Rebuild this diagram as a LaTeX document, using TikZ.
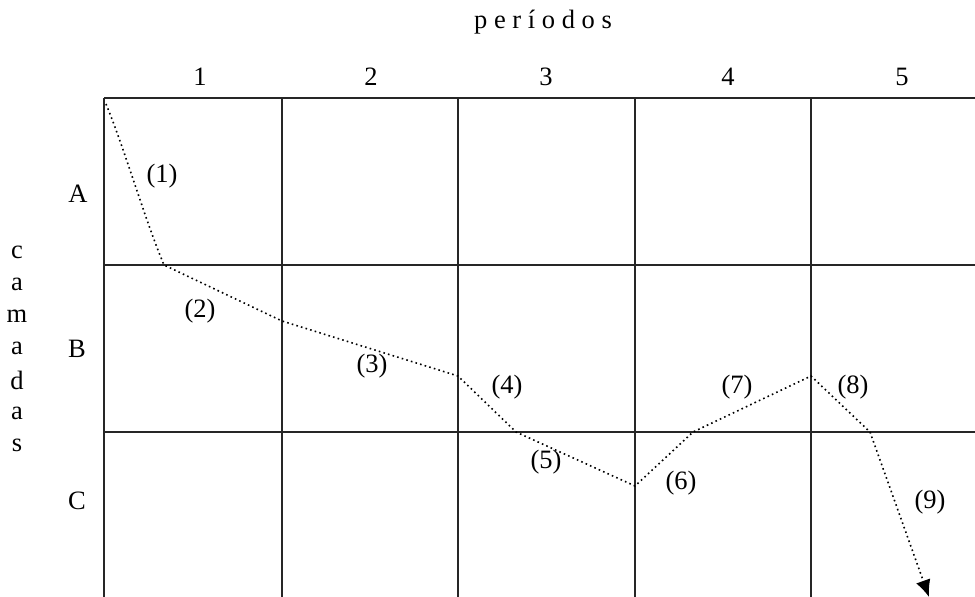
\documentclass[tikz,border=0pt]{standalone}
\usepackage{fontspec}
\setmainfont{Liberation Serif}
\usetikzlibrary{arrows.meta}
\begin{document}
\begin{tikzpicture}[x=1pt,y=-1pt,
  gridline/.style={line width=1.3pt, black!85},
  lbl/.style={inner sep=0pt, font=\fontsize{26.5}{31}\selectfont},
  route/.style={line width=1.6pt, dash pattern=on 1.6pt off 3.2pt, black}]
\useasboundingbox (0,0) rectangle (975,597);
% grid
\draw[gridline] (104,98) -- (975,98);
\draw[gridline] (104,265) -- (975,265);
\draw[gridline] (104,432) -- (975,432);
\foreach \x in {104,282,458,635,811} \draw[gridline] (\x,98) -- (\x,597);
% headers
\node[lbl] (per) at (543,22) {p e r í o d o s};
\node[lbl] (c1) at (200,77) {1};
\node[lbl] (c2) at (371,77) {2};
\node[lbl] (c3) at (546,77) {3};
\node[lbl] (c4) at (728,77) {4};
\node[lbl] (c5) at (902,77) {5};
\node[lbl] (rA) at (78,194) {A};
\node[lbl] (rB) at (77,349) {B};
\node[lbl] (rC) at (77,501) {C};
\foreach \ch [count=\i] in {c,a,m,a,d,a,s}
  \node[lbl] (v\i) at (17,{252+32.2*(\i-1)}) {\ch};
% route points
\coordinate (p0) at (106,104);
\coordinate (p1) at (164,265);
\coordinate (p2) at (282,321);
\coordinate (p3) at (458,376);
\coordinate (p4) at (516,432);
\coordinate (p5) at (635,486);
\coordinate (p6) at (693,432);
\coordinate (p7) at (811,376);
\coordinate (p8) at (870,432);
\coordinate (p9) at (929,597);
\draw[route] (p0) .. controls (125,150) and (145,220) .. (p1) -- (p2) -- (p3) -- (p4) -- (p5) -- (p6) -- (p7) -- (p8);
\draw[route, -{Latex[length=17pt,width=15pt]}] (p8) -- (p9);
% segment labels
\node[lbl] (l1) at (162,176) {(1)};
\node[lbl] (l2) at (200,311) {(2)};
\node[lbl] (l3) at (372,366) {(3)};
\node[lbl] (l4) at (507,387) {(4)};
\node[lbl] (l5) at (546,462) {(5)};
\node[lbl] (l6) at (681,483) {(6)};
\node[lbl] (l7) at (737,387) {(7)};
\node[lbl] (l8) at (853,387) {(8)};
\node[lbl] (l9) at (930,502) {(9)};
\end{tikzpicture}
\end{document}
